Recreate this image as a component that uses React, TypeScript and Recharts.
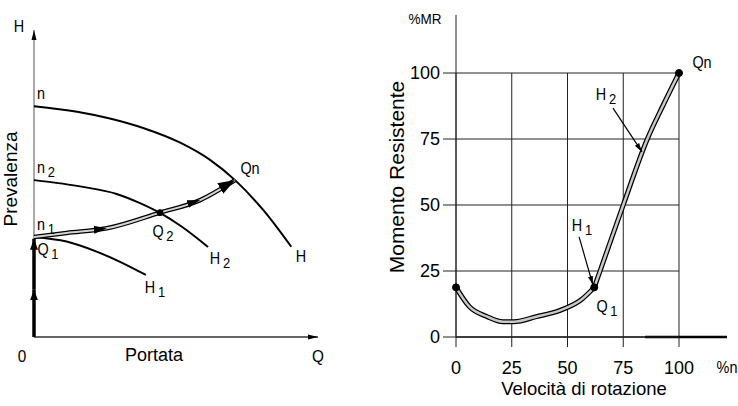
import React from 'react';
import { ComposedChart, Line, XAxis, YAxis, CartesianGrid, ReferenceLine, ReferenceDot } from 'recharts';

// ---------- Left diagram (relative units) ----------
const curveNx = [0, 15.3, 27, 38.8, 52, 62.6, 71.5, 81.5, 91.5];
const curveNy = [75.2, 73.4, 71.2, 68.1, 63.3, 57.7, 51.1, 41.4, 29.4];
const curveN2x = [0, 17.4, 29.4, 37.7, 44.8, 52.6, 61.9];
const curveN2y = [51.1, 48.9, 46.6, 43.6, 40.4, 35.9, 29.3];
const curveN1x = [0, 11.6, 22.3, 30.6, 39.8];
const curveN1y = [32.6, 31.1, 27.8, 24.5, 20.2];
const opPathX = [0, 11.6, 25.9, 44.8, 59.1, 71.5];
const opPathY = [32.6, 33.9, 35.4, 40.5, 44.6, 51.1];
const riseX = [0, 0, 0];
const riseY = [0, 15.5, 32.0];
const q2Point = { x: 44.8, y: 40.5 };

// ---------- Right diagram (% speed vs % resisting torque) ----------
const lowSpeed = [0, 6, 14, 21, 26, 36, 47, 56, 62];
const lowTorque = [18.8, 11.5, 7.7, 5.8, 5.8, 7.7, 10.2, 14, 18.8];
const highSpeed = [62, 64.6, 75, 85.8, 93, 100];
const highTorque = [18.8, 25, 50, 75, 88, 100];
const speedTicks = [0, 25, 50, 75, 100];
const torqueTicks = [0, 25, 50, 75, 100];
const keyPoints = [
  { x: 0, y: 18.8 },
  { x: 62, y: 18.8 },
  { x: 100, y: 100 },
];
const h1Pointer = [{ x: 55.2, y: 37.9 }, { x: 61.4, y: 19.7 }];
const h2Pointer = [{ x: 70.4, y: 86.7 }, { x: 83.4, y: 70.1 }];

const zip = (xs: number[], ys: number[]) => xs.map((x, i) => ({ x, y: ys[i] }));

const nData = zip(curveNx, curveNy);
const n2Data = zip(curveN2x, curveN2y);
const n1Data = zip(curveN1x, curveN1y);
const opData = zip(opPathX, opPathY);
const op1 = [opData[1], opData[2]];
const op2 = [opData[3], opData[4]];
const op3 = [opData[4], opData[5]];
const rise1 = [{ x: riseX[0], y: riseY[0] }, { x: riseX[1], y: riseY[1] }];
const rise2 = [{ x: riseX[1], y: riseY[1] }, { x: riseX[2], y: riseY[2] }];
const xAxisLeft = [{ x: 0, y: 0 }, { x: 101, y: 0 }];
const yAxisLeft = [{ x: 0, y: 0 }, { x: 0, y: 100 }];
const lowData = zip(lowSpeed, lowTorque);
const highData = zip(highSpeed, highTorque);

const SANS = "'Liberation Sans', Arial, sans-serif";

const Txt = ({ x, y, children, size = 16, family = SANS, rot = 0, sx = 0.9 }: any) => (
  <div
    style={{
      position: 'absolute',
      left: x,
      top: y,
      transform: `translate(-50%, -50%) rotate(${rot}deg) scaleX(${sx})`,
      fontSize: size,
      fontFamily: family,
      lineHeight: 1,
      whiteSpace: 'nowrap',
      color: '#000',
    }}
  >
    {children}
  </div>
);

const Sub = ({ children }: any) => (
  <span style={{ fontSize: '0.9em', position: 'relative', top: '0.3em', marginLeft: 3 }}>{children}</span>
);

export default function App() {
  return (
    <div style={{ position: 'absolute', left: 0, top: 0, width: 738, height: 406, background: '#fff', overflow: 'hidden' }}>
      <svg width={0} height={0} style={{ position: 'absolute' }}>
        <defs>
          <marker id="axArrow" markerWidth={10} markerHeight={8} refX={10} refY={4} orient="auto" markerUnits="userSpaceOnUse">
            <path d="M0,1.5 L10,4 L0,6.5 z" fill="#000" />
          </marker>
          <marker id="riseArrow" markerWidth={12} markerHeight={10} refX={11} refY={5} orient="auto" markerUnits="userSpaceOnUse">
            <path d="M0,1 L11,5 L0,9 z" fill="#000" />
          </marker>
          <marker id="midArrow" markerWidth={14} markerHeight={10} refX={13} refY={5} orient="auto" markerUnits="userSpaceOnUse">
            <path d="M0,1 L13,5 L0,9 z" fill="#000" />
          </marker>
          <marker id="bigArrow" markerWidth={18} markerHeight={14} refX={17} refY={7} orient="auto" markerUnits="userSpaceOnUse">
            <path d="M0,1 L17,7 L0,13 z" fill="#000" />
          </marker>
          <marker id="ptrArrow" markerWidth={9} markerHeight={7} refX={9} refY={3.5} orient="auto" markerUnits="userSpaceOnUse">
            <path d="M0,1 L9,3.5 L0,6 z" fill="#000" />
          </marker>
        </defs>
      </svg>

      {/* Left: pump curves */}
      <div style={{ position: 'absolute', left: 0, top: 0 }}>
        <ComposedChart width={330} height={406} margin={{ top: 30, right: 12, bottom: 69, left: 34 }}>
          <XAxis type="number" dataKey="x" domain={[0, 101]} hide />
          <YAxis type="number" domain={[0, 100]} hide />
          <Line data={yAxisLeft} dataKey="y" type="linear" stroke="#555" strokeWidth={1} dot={false} isAnimationActive={false} markerEnd="url(#axArrow)" />
          <Line data={xAxisLeft} dataKey="y" type="linear" stroke="#333" strokeWidth={1.5} dot={false} isAnimationActive={false} markerEnd="url(#axArrow)" />
          <Line data={nData} dataKey="y" type="monotone" stroke="#000" strokeWidth={2} dot={false} isAnimationActive={false} />
          <Line data={n2Data} dataKey="y" type="monotone" stroke="#000" strokeWidth={2} dot={false} isAnimationActive={false} />
          <Line data={n1Data} dataKey="y" type="monotone" stroke="#000" strokeWidth={2} dot={false} isAnimationActive={false} />
          <Line data={opData} dataKey="y" type="monotone" stroke="#000" strokeWidth={4.5} dot={false} isAnimationActive={false} />
          <Line data={opData} dataKey="y" type="monotone" stroke="#d4d4d4" strokeWidth={2} dot={false} isAnimationActive={false} />
          <Line data={op1} dataKey="y" type="linear" stroke="none" dot={false} isAnimationActive={false} markerEnd="url(#midArrow)" />
          <Line data={op2} dataKey="y" type="linear" stroke="none" dot={false} isAnimationActive={false} markerEnd="url(#midArrow)" />
          <Line data={op3} dataKey="y" type="linear" stroke="none" dot={false} isAnimationActive={false} markerEnd="url(#bigArrow)" />
          <Line data={rise1} dataKey="y" type="linear" stroke="#000" strokeWidth={3.5} dot={false} isAnimationActive={false} markerEnd="url(#riseArrow)" />
          <Line data={rise2} dataKey="y" type="linear" stroke="#000" strokeWidth={3.5} dot={false} isAnimationActive={false} markerEnd="url(#riseArrow)" />
          <ReferenceDot x={q2Point.x} y={q2Point.y} r={3} fill="#000" stroke="#000" />
        </ComposedChart>
      </div>

      {/* Right: resisting torque vs speed */}
      <div style={{ position: 'absolute', left: 380, top: 0 }}>
        <ComposedChart width={358} height={406} margin={{ top: 73, right: 59, bottom: 29, left: 16 }}>
          <CartesianGrid stroke="#222" strokeWidth={1} />
          <XAxis
            type="number"
            dataKey="x"
            domain={[0, 100]}
            ticks={speedTicks}
            height={40}
            tickSize={10}
            tickMargin={14}
            axisLine={{ stroke: '#222' }}
            tickLine={{ stroke: '#222' }}
            tick={{ fill: '#000', fontSize: 18, fontFamily: SANS }}
          />
          <YAxis
            type="number"
            domain={[0, 100]}
            ticks={torqueTicks}
            width={60}
            tickSize={13}
            tickMargin={3}
            axisLine={{ stroke: '#222' }}
            tickLine={{ stroke: '#222' }}
            tick={{ fill: '#000', fontSize: 18, fontFamily: SANS }}
          />
          <ReferenceLine segment={[{ x: 0, y: 100 }, { x: 0, y: 122 }]} stroke="#222" ifOverflow="visible" />
          <ReferenceLine segment={[{ x: 0, y: 0 }, { x: 121.5, y: 0 }]} stroke="#222" ifOverflow="visible" />
          <ReferenceLine segment={[{ x: 84.8, y: 0 }, { x: 121.5, y: 0 }]} stroke="#000" strokeWidth={2.5} ifOverflow="visible" />
          <Line data={lowData} dataKey="y" type="monotone" stroke="#000" strokeWidth={5} dot={false} isAnimationActive={false} />
          <Line data={highData} dataKey="y" type="monotone" stroke="#000" strokeWidth={5} dot={false} isAnimationActive={false} />
          <Line data={lowData} dataKey="y" type="monotone" stroke="#c8c8c8" strokeWidth={2.5} dot={false} isAnimationActive={false} />
          <Line data={highData} dataKey="y" type="monotone" stroke="#c8c8c8" strokeWidth={2.5} dot={false} isAnimationActive={false} />
          <Line data={h1Pointer} dataKey="y" type="linear" stroke="#000" strokeWidth={1.2} dot={false} isAnimationActive={false} markerEnd="url(#ptrArrow)" />
          <Line data={h2Pointer} dataKey="y" type="linear" stroke="#000" strokeWidth={1.2} dot={false} isAnimationActive={false} markerEnd="url(#ptrArrow)" />
          {keyPoints.map((p, i) => (
            <ReferenceDot key={i} x={p.x} y={p.y} r={3.5} fill="#000" stroke="#000" ifOverflow="visible" />
          ))}
        </ComposedChart>
      </div>

      {/* Left labels */}
      <Txt x={19} y={27}>H</Txt>
      <Txt x={41} y={94}>n</Txt>
      <Txt x={46} y={168}>n<Sub>2</Sub></Txt>
      <Txt x={46} y={225}>n<Sub>1</Sub></Txt>
      <Txt x={48} y={250}>Q<Sub>1</Sub></Txt>
      <Txt x={163} y={232}>Q<Sub>2</Sub></Txt>
      <Txt x={250} y={169}>Qn</Txt>
      <Txt x={220} y={259}>H<Sub>2</Sub></Txt>
      <Txt x={301} y={257}>H</Txt>
      <Txt x={155} y={288}>H<Sub>1</Sub></Txt>
      <Txt x={22} y={356} size={17}>0</Txt>
      <Txt x={154} y={355} size={18} sx={1}>Portata</Txt>
      <Txt x={318} y={356} size={17}>Q</Txt>
      <Txt x={10} y={179} size={19} sx={1} rot={-90}>Prevalenza</Txt>

      {/* Right labels */}
      <Txt x={425} y={18} size={15}>%MR</Txt>
      <Txt x={702} y={63}>Qn</Txt>
      <Txt x={606} y={95}>H<Sub>2</Sub></Txt>
      <Txt x={582} y={226}>H<Sub>1</Sub></Txt>
      <Txt x={607} y={307}>Q<Sub>1</Sub></Txt>
      <Txt x={396} y={177} size={21} sx={1} rot={-90}>Momento Resistente</Txt>
      <Txt x={584} y={389} size={18.5} sx={1}>Velocità di rotazione</Txt>
      <Txt x={727} y={368} size={16}>%n</Txt>
    </div>
  );
}
